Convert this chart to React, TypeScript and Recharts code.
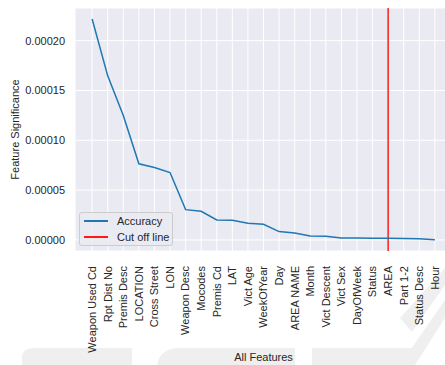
import {
  CartesianGrid,
  Label,
  Line,
  LineChart,
  ReferenceLine,
  XAxis,
  YAxis,
} from 'recharts'

const features = [
  'Weapon Used Cd', 'Rpt Dist No', 'Premis Desc', 'LOCATION', 'Cross Street', 'LON',
  'Weapon Desc', 'Mocodes', 'Premis Cd', 'LAT', 'Vict Age', 'WeekOfYear', 'Day',
  'AREA NAME', 'Month', 'Vict Descent', 'Vict Sex', 'DayOfWeek', 'Status', 'AREA',
  'Part 1-2', 'Status Desc', 'Hour',
]

const significance = [
  0.0002217, 0.0001647, 0.000125, 0.0000764, 0.0000727, 0.0000677,
  0.0000304, 0.0000287, 0.00002, 0.0000197, 0.0000167, 0.0000157, 0.0000084,
  0.000007, 0.000004, 0.0000037, 0.000002, 0.0000019, 0.0000018, 0.0000016,
  0.0000014, 0.0000011, 0.0000002,
]

const yTicks = [0, 0.00005, 0.0001, 0.00015, 0.0002]
const cutOffFeature = 'AREA'

const TEXT = '#262626'
const FONT = '"Liberation Sans", Arial, sans-serif'
const BLUE = '#1f77b4'
const RED = '#ff1a1a'

const data = features.map((name, i) => ({ idx: i, name, value: significance[i] }))
const xTicks = data.map((d) => d.idx)
const cutOffIdx = features.indexOf(cutOffFeature)

function FeatureTick({ x, y, payload }: any) {
  return (
    <text
      x={x}
      y={y + 7}
      dy="0.35em"
      transform={`rotate(-90, ${x}, ${y + 7})`}
      textAnchor="end"
      fontSize={11}
      fill={TEXT}
      fontFamily={FONT}
    >
      {features[payload.value]}
    </text>
  )
}

function YTitle({ viewBox }: any) {
  const cx = viewBox.x + 15
  const cy = viewBox.y + viewBox.height / 2
  return (
    <text
      x={cx}
      y={cy}
      dy="0.35em"
      transform={`rotate(-90, ${cx}, ${cy})`}
      textAnchor="middle"
      fontSize={11}
      fill={TEXT}
      fontFamily={FONT}
    >
      Feature Significance
    </text>
  )
}

function XTitle({ viewBox }: any) {
  return (
    <text
      x={viewBox.x + viewBox.width / 2}
      y={357}
      dy="0.35em"
      textAnchor="middle"
      fontSize={11}
      fill={TEXT}
      fontFamily={FONT}
    >
      All Features
    </text>
  )
}

function LegendBox() {
  const row = (color: string, label: string) => (
    <div style={{ display: 'flex', alignItems: 'center', height: 16 }}>
      <div style={{ width: 24, height: 2, background: color, marginLeft: 4, marginRight: 9 }} />
      <span style={{ fontSize: 11, color: TEXT, fontFamily: FONT, lineHeight: '16px' }}>{label}</span>
    </div>
  )
  return (
    <div
      style={{
        position: 'absolute',
        left: 79,
        top: 212,
        width: 92,
        height: 32,
        background: 'rgba(234,234,242,0.8)',
        border: '1px solid #cccccc',
        borderRadius: 3,
        display: 'flex',
        flexDirection: 'column',
        justifyContent: 'center',
      }}
    >
      {row(BLUE, 'Accuracy')}
      {row(RED, 'Cut off line')}
    </div>
  )
}

function Watermark() {
  return (
    <svg width={445} height={365} style={{ position: 'absolute', left: 0, top: 0 }}>
      <g fill="#efefef">
        <path d="M22,365 L22,358 Q22,348 34,348 L132,348 L132,365 Z" />
        <path d="M157,365 Q160,348 180,348 L295,348 L295,365 Z" />
        <path d="M312,348 L412,348 L412,365 L312,365 Z" />
        <path d="M445,300 L445,318 L415,365 L400,365 Z" />
        <path d="M400,318 L445,268 L445,285 L412,332 Z" />
      </g>
    </svg>
  )
}

export default function App() {
  return (
    <div
      style={{
        position: 'fixed',
        left: 0,
        top: 0,
        width: 445,
        height: 365,
        overflow: 'hidden',
        background: '#ffffff',
      }}
    >
      <Watermark />
      <div style={{ position: 'absolute', left: 0, top: 0 }}>
        <LineChart
          width={452}
          height={365}
          data={data}
          margin={{ top: 8, right: 0, left: 0, bottom: 0 }}
        >
          <CartesianGrid fill="#eaeaf2" stroke="#ffffff" strokeWidth={1} />
          <XAxis
            dataKey="idx"
            type="number"
            domain={[-1.1, 23.1]}
            ticks={xTicks}
            interval={0}
            axisLine={false}
            tickLine={false}
            height={114}
            tick={<FeatureTick />}
          >
            <Label content={<XTitle />} />
          </XAxis>
          <YAxis
            type="number"
            domain={[-0.0000111, 0.0002328]}
            ticks={yTicks}
            axisLine={false}
            tickLine={false}
            tickSize={0}
            tickMargin={10}
            width={75}
            tickFormatter={(v: number) => v.toFixed(5)}
            tick={{ fontSize: 11, fill: TEXT, fontFamily: FONT }}
          >
            <Label content={<YTitle />} />
          </YAxis>
          <ReferenceLine x={cutOffIdx} stroke={RED} strokeWidth={1.5} />
          <Line
            dataKey="value"
            stroke={BLUE}
            strokeWidth={1.5}
            dot={false}
            isAnimationActive={false}
          />
        </LineChart>
      </div>
      <LegendBox />
    </div>
  )
}
